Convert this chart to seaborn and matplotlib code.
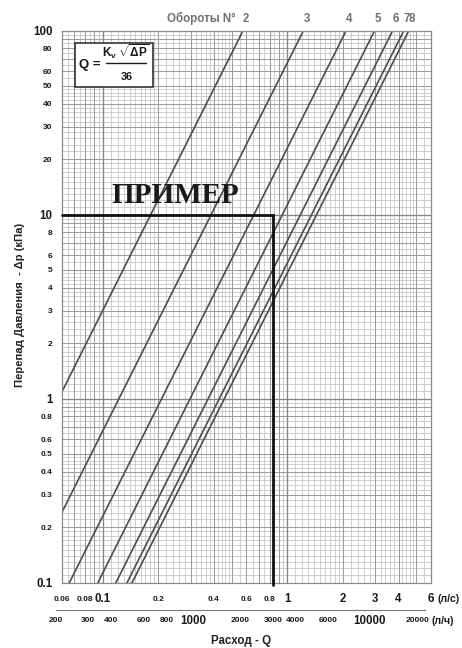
import numpy as np
import pandas as pd
import matplotlib
matplotlib.use("Agg")
import matplotlib.pyplot as plt
import seaborn as sns
from matplotlib.ticker import FixedLocator, NullLocator, NullFormatter
from matplotlib.patches import Rectangle
from matplotlib.lines import Line2D
import matplotlib.transforms as mtransforms
from matplotlib import font_manager

# ---------------- data ----------------
turns = ['2', '3', '4', '5', '6', '7', '8']
kv_values = [2.07, 4.40, 7.50, 10.7, 13.4, 15.4, 16.4]   # Kv per number of turns
dp_ends = [0.01, 100.0]                                  # kPa, ends of each characteristic
example_q = 0.835                                        # l/s
example_dp = 10.0                                        # kPa

q_ls_labels = [0.06, 0.08, 0.1, 0.2, 0.4, 0.6, 0.8, 1, 2, 3, 4, 6]
q_ls_big = [0.1, 1, 2, 3, 4, 6]
q_lh_labels = [200, 300, 400, 600, 800, 1000, 2000, 3000, 4000, 6000, 10000, 20000]
q_lh_big = [1000, 10000]
dp_labels = [0.1, 0.2, 0.3, 0.4, 0.5, 0.6, 0.8, 1, 2, 3, 4, 5, 6, 8,
             10, 20, 30, 40, 50, 60, 80, 100]
dp_big = [0.1, 1, 10, 100]

x_lim = (0.06, 6.0)
y_lim = (0.1, 100.0)

# ---------------- style ----------------
sns.set_style("white")
plt.rcParams['font.family'] = ['Liberation Sans', 'DejaVu Sans']
plt.rcParams['mathtext.fontset'] = 'custom'
plt.rcParams['mathtext.rm'] = 'Liberation Sans:bold'
plt.rcParams['mathtext.it'] = 'Liberation Sans:bold'
plt.rcParams['mathtext.bf'] = 'Liberation Sans:bold'

installed = {f.name for f in font_manager.fontManager.ttflist}
if 'Liberation Sans Narrow' in installed:
    small_family = ['Liberation Sans Narrow']
    small_size = 6.5
else:
    small_family = ['Liberation Sans']
    small_size = 6.0

W, H = 462, 648
fig = plt.figure(figsize=(W / 100, H / 100), dpi=100)
L, R, T, B = 62.0, 431.0, 30.5, 582.5
ax = fig.add_axes([L / W, 1 - B / H, (R - L) / W, (B - T) / H])
ax.set_xscale('log')
ax.set_yscale('log')
ax.set_xlim(*x_lim)
ax.set_ylim(*y_lim)
ax.set_facecolor('white')


def mantissas():
    return np.concatenate([np.arange(1, 2, 0.1), np.arange(2, 5, 0.2), np.arange(5, 10, 0.5)])


def grid_vals(lo, hi, kind):
    out = []
    for e in range(-3, 6):
        ms = mantissas() if kind == 'fine' else (np.arange(1, 10) if kind == 'int' else [1])
        for m in ms:
            v = round(m * 10.0 ** e, 8)
            if lo * 1.0001 < v < hi * 0.9999:
                out.append(v)
    return sorted(set(out))


for v in grid_vals(*x_lim, 'fine'):
    ax.axvline(v, color='#c2c2c2', lw=0.55, zorder=0.3)
for v in grid_vals(*y_lim, 'fine'):
    ax.axhline(v, color='#c2c2c2', lw=0.55, zorder=0.3)
for v in grid_vals(*x_lim, 'int'):
    ax.axvline(v, color='#9c9c9c', lw=0.75, zorder=0.4)
for v in grid_vals(*y_lim, 'int'):
    ax.axhline(v, color='#9c9c9c', lw=0.75, zorder=0.4)
for v in grid_vals(*x_lim, 'dec'):
    ax.axvline(v, color='#858585', lw=0.9, zorder=0.5)
for v in grid_vals(*y_lim, 'dec'):
    ax.axhline(v, color='#858585', lw=0.9, zorder=0.5)

# ---------------- characteristic lines ----------------
rows = []
for t, kv in zip(turns, kv_values):
    for dp in dp_ends:
        rows.append({'turn': t, 'Q': kv * np.sqrt(dp) / 36.0, 'dp': dp})
df = pd.DataFrame(rows)
sns.lineplot(data=df, x='Q', y='dp', hue='turn', palette={t: '#4d4d4d' for t in turns},
             legend=False, ax=ax, lw=1.2, sort=False, estimator=None)
ax.set_xlabel('')
ax.set_ylabel('')

# example
ax.plot([x_lim[0], example_q, example_q], [example_dp, example_dp, y_lim[0] * 0.97],
        color='#111111', lw=2.0, zorder=4, clip_on=False, solid_joinstyle='miter')

# ---------------- ticks ----------------
xt = sorted(set(round(v, 8) for v in grid_vals(*x_lim, 'int') + [x_lim[0], x_lim[1]]))
ax.xaxis.set_major_locator(FixedLocator(xt))
ax.xaxis.set_minor_locator(NullLocator())
ax.set_xticklabels([f'{v:g}' if any(abs(v - l) < 1e-9 for l in q_ls_labels) else '' for v in xt])
yt = sorted(set(round(v, 8) for v in grid_vals(*y_lim, 'int') + [y_lim[0], y_lim[1]]))
ax.yaxis.set_major_locator(FixedLocator(yt))
ax.yaxis.set_minor_locator(NullLocator())
ax.set_yticklabels([f'{v:g}' if any(abs(v - l) < 1e-9 for l in dp_labels) else '' for v in yt])

ax.tick_params(axis='x', direction='out', length=3.5, width=0.6, color='#8a8a8a', pad=8.4)
ax.tick_params(axis='y', direction='out', length=3.0, width=0.6, color='#8a8a8a', pad=3.8)


def style_label(lab, big):
    if big:
        lab.set_fontsize(8.3)
        lab.set_family(['Liberation Sans', 'DejaVu Sans'])
    else:
        lab.set_fontsize(small_size)
        lab.set_family(small_family)
    lab.set_fontweight('bold')
    lab.set_color('#1a1a1a')


for v, lab in zip(xt, ax.get_xticklabels()):
    style_label(lab, any(abs(v - b) < 1e-9 for b in q_ls_big))
    lab.set_verticalalignment('center')
for v, lab in zip(yt, ax.get_yticklabels()):
    style_label(lab, any(abs(v - b) < 1e-9 for b in dp_big))

for s in ax.spines.values():
    s.set_color('#8a8a8a')
    s.set_linewidth(0.9)

# ---------------- turn labels ----------------
trans = mtransforms.blended_transform_factory(ax.transData, ax.transAxes)
for t, kv in zip(turns, kv_values):
    q_top = kv * np.sqrt(y_lim[1]) / 36.0
    ax.text(q_top * 1.04, 1.021, t, transform=trans, ha='center', va='center',
            fontsize=8.3, fontweight='bold', color='#707070', clip_on=False)
q2 = kv_values[0] * np.sqrt(y_lim[1]) / 36.0
ax.annotate('Обороты N°', xy=(q2 * 1.04, 1.021), xycoords=trans, xytext=(-7.5, 0),
            textcoords='offset points', ha='right', va='center', fontsize=8.3,
            fontweight='bold', color='#707070')

# ---------------- second flow axis (l/h) ----------------
def x_px(q_ls):
    return L + (np.log10(q_ls) - np.log10(x_lim[0])) / (np.log10(x_lim[1]) - np.log10(x_lim[0])) * (R - L)


lh_lo, lh_hi = q_lh_labels[0], q_lh_labels[-1]
x0 = x_px(lh_lo / 3600.0)
x1 = x_px(lh_hi / 3600.0)
ax2 = fig.add_axes([x0 / W, 1 - 610 / H, (x1 - x0) / W, 4 / H])
ax2.set_xscale('log')
ax2.set_xlim(lh_lo, lh_hi)
ax2.patch.set_alpha(0)
for k in ['top', 'left', 'right']:
    ax2.spines[k].set_visible(False)
ax2.spines['bottom'].set_color('#7a7a7a')
ax2.spines['bottom'].set_linewidth(0.8)
ax2.set_yticks([])
lh_major = sorted(set([int(round(v)) for v in grid_vals(lh_lo * 0.99, lh_hi * 1.01, 'int')]))
lh_minor = []
for e in range(2, 5):
    for m in np.concatenate([np.arange(2, 5, 0.1), np.arange(5, 10, 0.25), np.arange(1, 2, 0.05)]):
        v = m * 10 ** e
        if lh_lo <= v <= lh_hi:
            lh_minor.append(v)
ax2.xaxis.set_major_locator(FixedLocator(lh_major))
ax2.xaxis.set_minor_locator(FixedLocator(lh_minor))
ax2.set_xticklabels([f'{v:d}' if v in q_lh_labels else '' for v in lh_major])
ax2.xaxis.set_minor_formatter(NullFormatter())
ax2.tick_params(axis='x', which='major', direction='in', length=3.2, width=0.6, color='#7a7a7a', pad=7.9)
ax2.tick_params(axis='x', which='minor', direction='in', length=1.6, width=0.45, color='#8a8a8a')
for v, lab in zip(lh_major, ax2.get_xticklabels()):
    style_label(lab, v in q_lh_big)
    lab.set_verticalalignment('center')
    if v == 1000:
        lab.set_transform(lab.get_transform() + mtransforms.ScaledTranslation(8 / 100, 0, fig.dpi_scale_trans))
    if v == 20000:
        lab.set_transform(lab.get_transform() + mtransforms.ScaledTranslation(-7 / 100, 0, fig.dpi_scale_trans))

# ---------------- texts ----------------
fig.text(437 / W, 1 - 599 / H, '(л/с)', ha='left', va='center', fontsize=7.6, fontweight='bold', color='#1a1a1a')
fig.text(432 / W, 1 - 621 / H, '(л/ч)', ha='left', va='center', fontsize=7.6, fontweight='bold', color='#1a1a1a')
fig.text(241 / W, 1 - 641 / H, 'Расход - Q', ha='center', va='center', fontsize=8.3, fontweight='bold', color='#222222')
fig.text(20 / W, 1 - 305 / H, 'Перепад Давления  - Δp (кПа)', ha='center', va='center', rotation=90,
         fontsize=8.1, fontweight='bold', color='#222222')

fig.text(175.5 / W, 1 - 203 / H, 'ПРИМЕР', ha='center', va='baseline', fontsize=21,
         fontweight='bold', family=['Liberation Serif', 'DejaVu Serif'], color='#1a1a1a')

# formula box
fig.add_artist(Rectangle((75 / W, 1 - 87 / H), 78 / W, 44 / H, transform=fig.transFigure,
                         facecolor='white', edgecolor='#333333', lw=1.2, zorder=3))
fig.text(90 / W, 1 - 68 / H, 'Q =', ha='center', va='baseline', fontsize=9.5, fontweight='bold',
         color='#1a1a1a', zorder=4)
fig.text(126 / W, 1 - 56.5 / H, r'$\mathbf{K}_{\mathbf{v}}\;\sqrt{\mathbf{\Delta P}}$', ha='center',
         va='baseline', fontsize=8.5, color='#1a1a1a', zorder=4)
fig.add_artist(Line2D([106 / W, 146 / W], [1 - 62.5 / H] * 2, transform=fig.transFigure,
                      color='#1a1a1a', lw=1.0, zorder=4))
fig.text(127 / W, 1 - 80 / H, '36', ha='center', va='baseline', fontsize=7.8, fontweight='bold',
         color='#1a1a1a', zorder=4)

fig.savefig('out.png', dpi=100)
